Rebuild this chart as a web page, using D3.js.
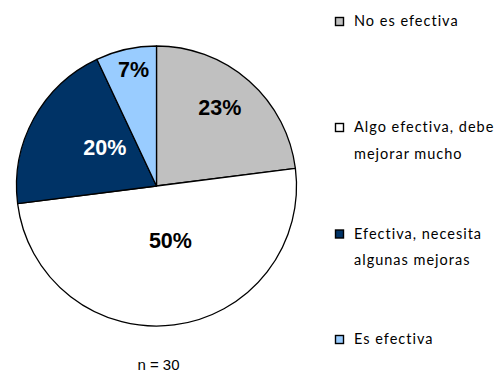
<!DOCTYPE html>
<html>
<head>
<meta charset="utf-8">
<script src="https://cdn.jsdelivr.net/npm/d3@7"></script>
<style>
  html, body { margin: 0; padding: 0; background: #ffffff; }
  svg { display: block; }
</style>
</head>
<body>
<svg id="chart" width="502" height="374"></svg>
<script>
// Survey answers: how effective is it?
const categories = [
  "No es efectiva",
  "Algo efectiva, debe mejorar mucho",
  "Efectiva, necesita algunas mejoras",
  "Es efectiva"
];
const percentages = [23, 50, 20, 7];
const legendLines = [
  ["No es efectiva"],
  ["Algo efectiva, debe", "mejorar mucho"],
  ["Efectiva, necesita", "algunas mejoras"],
  ["Es efectiva"]
];
const sampleNote = "n = 30";

// Styling
const fills = ["#C0C0C0", "#FFFFFF", "#003366", "#99CCFF"];
const labelColors = ["#000000", "#000000", "#FFFFFF", "#000000"];
// where each percentage sits: [fraction along slice angle, fraction of radius]
const labelPlacement = [[0.47, 0.72], [0.46, 0.40], [0.61, 0.46], [0.56, 0.85]];

const svg = d3.select("#chart");
const cx = 156.5, cy = 186, radius = 140;

const pie = d3.pie().sort(null).value(d => d)(percentages);
const arc = d3.arc().innerRadius(0).outerRadius(radius);

const g = svg.append("g").attr("transform", `translate(${cx},${cy})`);

g.selectAll("path.slice")
  .data(pie)
  .join("path")
  .attr("class", "slice")
  .attr("d", arc)
  .attr("fill", (d, i) => fills[i])
  .attr("stroke", "#000")
  .attr("stroke-width", 1.3)
  .attr("stroke-linejoin", "round");

g.selectAll("text.pct")
  .data(pie)
  .join("text")
  .attr("class", "pct")
  .attr("transform", (d, i) => {
    const [fa, fr] = labelPlacement[i];
    const a = d.startAngle + (d.endAngle - d.startAngle) * fa;
    const r = radius * fr;
    return `translate(${r * Math.sin(a)},${-r * Math.cos(a)})`;
  })
  .attr("text-anchor", "middle")
  .attr("dy", "0.36em")
  .attr("font-family", "'Liberation Sans', Arial, sans-serif")
  .attr("font-weight", "bold")
  .attr("font-size", 21.5)
  .attr("fill", (d, i) => labelColors[i])
  .text(d => d.data + "%");

// Legend
const legendTop = [26, 132, 238.5, 344];
const legend = svg.append("g");
categories.forEach((c, i) => {
  const item = legend.append("g").attr("transform", `translate(0,${legendTop[i]})`);
  item.append("rect")
    .attr("x", 335.5).attr("y", -8.5)
    .attr("width", 8).attr("height", 8)
    .attr("fill", fills[i])
    .attr("stroke", "#000")
    .attr("stroke-width", 1.4);
  item.selectAll("text")
    .data(legendLines[i])
    .join("text")
    .attr("x", 354)
    .attr("y", (d, k) => k * 26.5)
    .attr("font-family", "Lato, 'Open Sans', sans-serif")
    .attr("font-size", 14.5)
    .attr("letter-spacing", 1)
    .attr("fill", "#000")
    .text(d => d);
});

svg.append("text")
  .attr("x", 158.5)
  .attr("y", 370)
  .attr("text-anchor", "middle")
  .attr("font-family", "'Liberation Sans', Arial, sans-serif")
  .attr("font-size", 15)
  .attr("fill", "#000")
  .text(sampleNote);
</script>
</body>
</html>
